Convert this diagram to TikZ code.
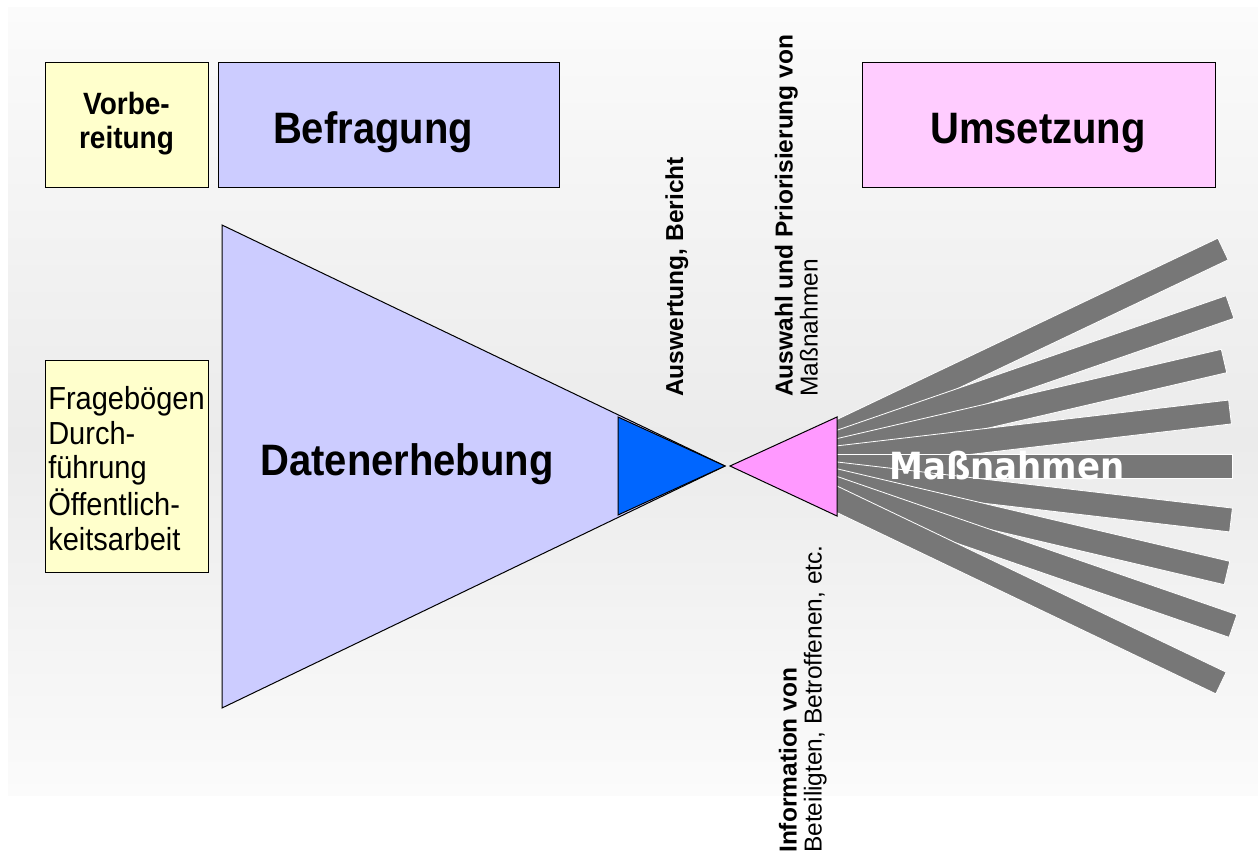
\documentclass[tikz,border=0pt]{standalone}
\usepackage{fontspec}
\setmainfont{Liberation Sans}
\newfontfamily\djv{DejaVu Sans}
\usetikzlibrary{calc}
\definecolor{yel}{HTML}{FFFFCC}
\definecolor{lav}{HTML}{CCCCFF}
\definecolor{pinkbox}{HTML}{FFCCFF}
\definecolor{blu}{HTML}{0066FF}
\definecolor{pnk}{HTML}{FF99FF}
\definecolor{barg}{HTML}{777777}
\definecolor{bgA}{HTML}{FBFBFB}
\definecolor{bgB}{HTML}{EBEBEB}
\newcommand{\vstr}[1]{\scalebox{1}[1.1]{#1}}
\begin{document}
\begin{tikzpicture}[x=1pt,y=-1pt,
  box/.style={draw=black, line width=1pt, inner sep=0pt},
  title/.style={font=\bfseries\fontsize{40}{46}\selectfont, anchor=base, inner sep=0pt},
  tri/.style={draw=black, line width=1pt, line join=miter},
  bar/.style={fill=barg, draw=white, line width=0.8pt},
  rot/.style={rotate=90, inner sep=0pt, align=left, font=\fontsize{24.5}{25}\selectfont}]
\useasboundingbox (0,0) rectangle (1258,856);
% background
\shade[top color=bgA, bottom color=bgB] (8,8) rectangle (1258,440);
\shade[top color=bgB, bottom color=bgA] (8,440) rectangle (1258,795);
% top boxes
\node[box, fill=yel, minimum width=163pt, minimum height=124pt,
      font=\bfseries\fontsize{28}{31}\selectfont] (vorb) at (126.5,125)
      {\vstr{\begin{tabular}{@{}c@{}}Vorbe-\\reitung\end{tabular}}};
\node[box, fill=lav, minimum width=341pt, minimum height=124pt] (befr) at (388.5,125) {};
\node[title] (befrT) at (373,143) {\vstr{Befragung}};
\node[box, fill=pinkbox, minimum width=353pt, minimum height=124pt] (ums) at (1038.5,125) {};
\node[title] (umsT) at (1038,143) {\vstr{Umsetzung}};
\node[box, fill=yel, minimum width=163pt, minimum height=212pt,
      font=\fontsize{29}{31.5}\selectfont] (frag) at (126.5,466)
      {\raisebox{-7pt}[\height][\depth]{\vstr{\begin{tabular}{@{}l@{}}Fragebögen\\Durch-\\führung\\Öffentlich-\\keitsarbeit\end{tabular}}}};
% funnel
\coordinate (t1) at (222,225); \coordinate (t2) at (222,708); \coordinate (apex) at (725,466);
\filldraw[tri, fill=lav] (t1) -- (apex) -- (t2) -- cycle;
\coordinate (b1) at (618,417); \coordinate (b2) at (618,515);
\filldraw[tri, fill=blu] (b1) -- (apex) -- (b2) -- cycle;
\node[title] (daten) at (407,475) {\vstr{Datenerhebung}};
% bars
\foreach \ly/\rx/\ry in {437/1223/249, 446/1230/307, 453/1224/361, 459/1230/412,
    466/1232/466, 473/1231/520, 479/1227/573, 486/1233/626, 495/1221/683} {
  \coordinate (L) at (828,\ly); \coordinate (R) at (\rx,\ry);
  \path[bar] ($(L)!12pt!90:(R)$) -- ($(R)!12pt!-90:(L)$) -- ($(R)!12pt!90:(L)$) -- ($(L)!12pt!-90:(R)$) -- cycle;
}
% pink triangle
\coordinate (papex) at (730,466); \coordinate (p1) at (837,417); \coordinate (p2) at (837,516);
\filldraw[tri, fill=pnk] (papex) -- (p1) -- (p2) -- cycle;
\node[font=\djv\bfseries\fontsize{34}{40}\selectfont, text=white, anchor=base, inner sep=0pt] (mnT) at (1007,479) {\vstr{Maßnahmen}};
% rotated labels
\node[rot, anchor=base west] (ausw) at (683,397) {\textbf{Auswertung, Bericht}};
\node[rot, anchor=south west] (auswahl) at (818,397) {\textbf{Auswahl und Priorisierung von}\\Maßnahmen};
\node[rot, anchor=south west] (info) at (827,853) {\textbf{Information von}\\Beteiligten, Betroffenen, etc.};
\end{tikzpicture}
\end{document}
